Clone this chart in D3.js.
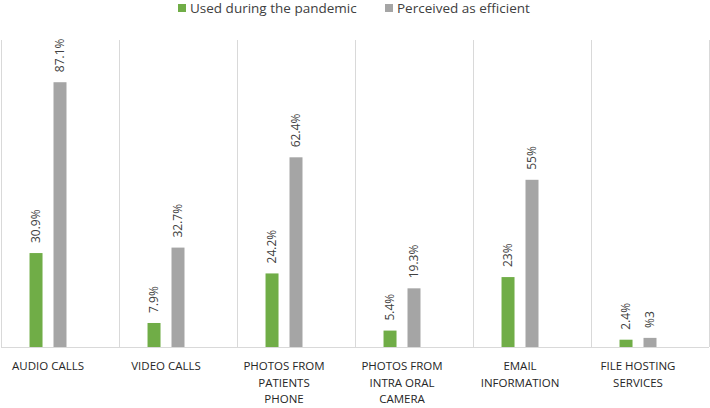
<!DOCTYPE html>
<html><head><meta charset="utf-8">
<script src="https://cdn.jsdelivr.net/npm/d3@7"></script>
<style>
body{margin:0;background:#fff;}
svg{display:block;font-family:"Open Sans",sans-serif;}
</style></head>
<body><svg id="c" width="710" height="408"></svg>
<script>
const categories = ["AUDIO CALLS","VIDEO CALLS","PHOTOS FROM PATIENTS PHONE","PHOTOS FROM INTRA ORAL CAMERA","EMAIL INFORMATION","FILE HOSTING SERVICES"];
const categoryLines = [["AUDIO CALLS"],["VIDEO CALLS"],["PHOTOS FROM","PATIENTS","PHONE"],["PHOTOS FROM","INTRA ORAL","CAMERA"],["EMAIL","INFORMATION"],["FILE HOSTING","SERVICES"]];
const seriesNames = ["Used during the pandemic","Perceived as efficient"];
const usedValues = [30.9, 7.9, 24.2, 5.4, 23, 2.4];
const efficientValues = [87.1, 32.7, 62.4, 19.3, 55, 3];
const usedLabels = ["30.9%","7.9%","24.2%","5.4%","23%","2.4%"];
const efficientLabels = ["87.1%","32.7%","62.4%","19.3%","55%","%3"];
const colors = ["#70AD47","#A5A5A5"];

const svg = d3.select("#c");
const x0 = d3.scaleBand().domain(categories).range([1,709]).padding(0);
const x1 = d3.scaleBand().domain([0,1,2]).range([0,x0.bandwidth()]).paddingInner(0.458).paddingOuter(1.19);
const y = d3.scaleLinear().domain([0,100]).range([347,43]);

// separators
const bounds = categories.map(c=>x0(c)).concat([x0.range()[1]]);
svg.append("g").selectAll("line").data(bounds).join("line")
  .attr("x1",d=>Math.round(d)+0.5).attr("x2",d=>Math.round(d)+0.5)
  .attr("y1",40).attr("y2",347).attr("stroke","#d9d9d9").attr("stroke-width",1);

const series = [usedValues, efficientValues];
const labels = [usedLabels, efficientLabels];
series.forEach((vals,si)=>{
  const g = svg.append("g");
  g.selectAll("rect").data(vals).join("rect")
    .attr("x",(d,i)=>x0(categories[i])+x1(si))
    .attr("width",x1.bandwidth())
    .attr("y",d=>y(d)).attr("height",d=>y(0)-y(d))
    .attr("fill",colors[si]);
  g.selectAll("text").data(vals).join("text")
    .attr("transform",(d,i)=>`translate(${x0(categories[i])+x1(si)+x1.bandwidth()/2+4},${y(d)-10}) rotate(-90)`)
    .attr("font-size",12).attr("fill","#404040")
    .text((d,i)=>labels[si][i]);
});

// baseline
svg.append("line").attr("x1",1).attr("x2",709).attr("y1",347.5).attr("y2",347.5)
  .attr("stroke","#d9d9d9").attr("stroke-width",1);

// category labels
const cl = svg.append("g");
categoryLines.forEach((lines,i)=>{
  const cx = x0(categories[i]) + (x1(0)+x1(1)+x1.bandwidth())/2;
  const t = cl.append("text").attr("text-anchor","middle").attr("font-size",11.5).attr("fill","#262626");
  lines.forEach((ln,j)=>{
    t.append("tspan").attr("x",cx).attr("y",370+j*16.7).text(ln);
  });
});

// legend
const legX = [178,385];
const lg = svg.append("g");
seriesNames.forEach((n,i)=>{
  lg.append("rect").attr("x",legX[i]).attr("y",4).attr("width",8).attr("height",8).attr("fill",colors[i]);
  lg.append("text").attr("x",legX[i]+12).attr("y",13).attr("font-size",13.5).attr("fill","#404040").text(n);
});
</script></body></html>
